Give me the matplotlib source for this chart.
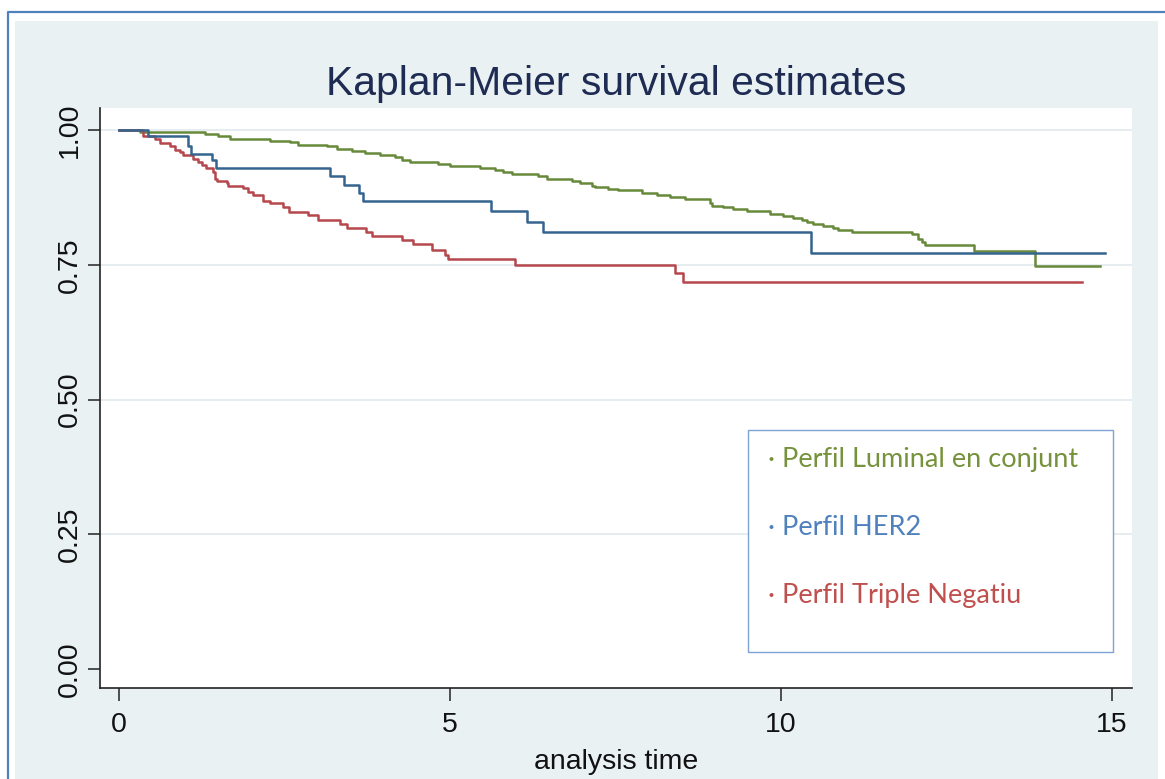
import matplotlib
matplotlib.use("Agg")
import matplotlib.pyplot as plt
from matplotlib.patches import Rectangle
from matplotlib.lines import Line2D

# Kaplan-Meier step data (time in years, survival)
lum_t = [0, 0.32, 1.30, 1.50, 1.68, 2.28, 2.58, 2.71, 3.14, 3.29, 3.52, 3.72, 3.94,
         4.17, 4.27, 4.40, 4.82, 5.00, 5.45, 5.68, 5.80, 5.93, 6.33, 6.46, 6.84,
         6.96, 7.14, 7.19, 7.39, 7.54, 7.90, 8.12, 8.32, 8.55, 8.93, 8.96, 9.12,
         9.27, 9.48, 9.83, 10.03, 10.18, 10.32, 10.39, 10.48, 10.63, 10.79, 10.86,
         11.07, 11.98, 12.07, 12.13, 12.18, 12.92, 13.84, 14.82]
lum_s = [1.0, 0.997, 0.993, 0.989, 0.984, 0.980, 0.977, 0.973, 0.970, 0.965, 0.962,
         0.958, 0.954, 0.950, 0.945, 0.941, 0.938, 0.934, 0.930, 0.926, 0.922,
         0.918, 0.915, 0.910, 0.906, 0.902, 0.897, 0.895, 0.891, 0.888, 0.884,
         0.879, 0.875, 0.872, 0.864, 0.860, 0.857, 0.853, 0.849, 0.845, 0.841,
         0.837, 0.833, 0.829, 0.826, 0.822, 0.819, 0.815, 0.811, 0.807, 0.798,
         0.793, 0.787, 0.775, 0.748, 0.748]

her2_t = [0, 0.44, 1.04, 1.09, 1.40, 1.47, 3.19, 3.40, 3.63, 3.69, 5.62, 6.16,
          6.40, 10.45, 14.89]
her2_s = [1.0, 0.989, 0.971, 0.956, 0.945, 0.930, 0.915, 0.899, 0.884, 0.869,
          0.850, 0.829, 0.811, 0.772, 0.772]

tn_t = [0, 0.37, 0.54, 0.62, 0.77, 0.85, 0.92, 0.97, 1.12, 1.20, 1.25, 1.32, 1.42,
        1.45, 1.48, 1.63, 1.65, 1.88, 1.95, 2.02, 2.18, 2.28, 2.48, 2.57, 2.86,
        3.00, 3.34, 3.44, 3.73, 3.82, 4.27, 4.44, 4.72, 4.92, 4.97, 5.98, 8.40,
        8.52, 14.54]
tn_s = [1.0, 0.989, 0.984, 0.976, 0.970, 0.963, 0.959, 0.954, 0.947, 0.941, 0.935,
        0.929, 0.923, 0.910, 0.905, 0.901, 0.897, 0.892, 0.886, 0.879, 0.869,
        0.864, 0.857, 0.848, 0.842, 0.833, 0.826, 0.818, 0.811, 0.803, 0.796,
        0.788, 0.777, 0.769, 0.761, 0.749, 0.734, 0.719, 0.719]

legend_labels = ["\u00b7 Perfil Luminal en conjunt", "\u00b7 Perfil HER2",
                 "\u00b7 Perfil Triple Negatiu"]
x_ticks = [0, 5, 10, 15]
y_ticks = [0.0, 0.25, 0.5, 0.75, 1.0]
y_ticklabels = ["0.00", "0.25", "0.50", "0.75", "1.00"]

W, H = 1165, 779
bg = "#e9f1f3"

plt.rcParams["font.family"] = ["Liberation Sans", "DejaVu Sans"]
fig = plt.figure(figsize=(W / 100, H / 100), dpi=100, facecolor="white")

# light panel + blue frame
fig.patches.append(Rectangle((15 / W, 0), (1158 - 15) / W, 1 - 21 / H,
                             transform=fig.transFigure, facecolor=bg,
                             edgecolor="none", zorder=-2))
fig.lines.append(Line2D([8 / W, 8 / W, 1.0], [0, 1 - 11.5 / H, 1 - 11.5 / H],
                        transform=fig.transFigure, color="#4f81bd", lw=1.6,
                        zorder=-1))

ax = fig.add_axes([100 / W, 1 - 688 / H, (1132 - 100) / W, (688 - 108) / H])
ax.set_facecolor("white")
ax.set_xlim(-0.287, 15.30)
ax.set_ylim(-0.035, 1.041)

for y in y_ticks[1:]:
    ax.axhline(y, color="#e3ecef", lw=1.3, zorder=1)

ax.step(lum_t, lum_s, where="post", color="#66893a", lw=1.8, zorder=3)
ax.step(her2_t, her2_s, where="post", color="#35648f", lw=1.8, zorder=4)
ax.step(tn_t, tn_s, where="post", color="#b5474d", lw=1.8, zorder=3)

for s in ["top", "right"]:
    ax.spines[s].set_visible(False)
for s in ["left", "bottom"]:
    ax.spines[s].set_color("#222222")
    ax.spines[s].set_linewidth(1.2)

ax.set_xticks(x_ticks)
ax.set_xticklabels([str(v) for v in x_ticks])
ax.set_yticks(y_ticks)
ax.set_yticklabels(y_ticklabels, rotation=90, va="center")
ax.tick_params(axis="both", direction="out", length=9, width=1.1,
               color="#222222", labelsize=20.5, labelcolor="#111111")
ax.tick_params(axis="x", pad=8)
ax.tick_params(axis="y", pad=3)

ax.set_xlabel("analysis time", fontsize=20.5, color="#111111", labelpad=8)

fig.text(616 / W, 1 - 95 / H, "Kaplan-Meier survival estimates", ha="center",
         va="baseline", fontsize=29.4, color="#1e2b52")

# legend box drawn as in the picture
fig.patches.append(Rectangle((748 / W, 1 - 652 / H), (1113 - 748) / W, (652 - 430) / H,
                             transform=fig.transFigure, facecolor="white",
                             edgecolor="#7fa2d6", lw=1.0, zorder=5))
leg_colors = ["#76923c", "#4f81bd", "#c0504d"]
leg_base = [467, 535, 603]
for lab, c, yb in zip(legend_labels, leg_colors, leg_base):
    fig.text(768 / W, 1 - yb / H, lab, ha="left", va="baseline", fontsize=19.5,
             color=c, family=["Lato", "DejaVu Sans"], zorder=6)

fig.savefig("out.png", dpi=100, facecolor="white")
